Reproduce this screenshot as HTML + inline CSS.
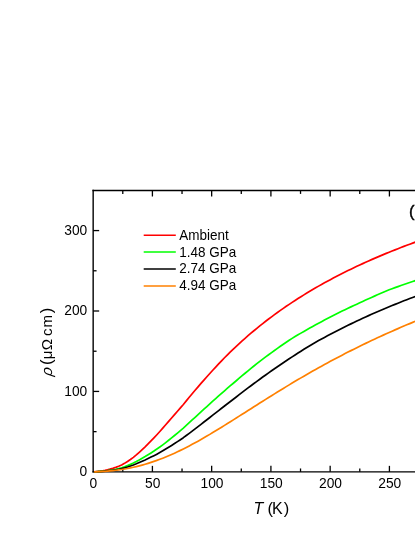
<!DOCTYPE html>
<html><head><meta charset="utf-8"><title>plot</title>
<style>
html,body{margin:0;padding:0;background:#fff;}
body{width:415px;height:537px;overflow:hidden;}
svg{display:block;will-change:transform;}
text{font-family:"Liberation Sans",sans-serif;fill:#000;}
</style></head><body>
<svg width="415" height="537" viewBox="0 0 415 537">
<rect x="0" y="0" width="415" height="537" fill="#ffffff"/>
<g stroke="#000" stroke-width="1.4" fill="none" stroke-linecap="butt">
<path d="M93.16 189.80 V472.56"/>
<path d="M92.46 190.50 H430"/>
<path d="M92.46 471.86 H430" stroke-width="1.3"/>
</g>
<g stroke="#000" stroke-width="1.3" fill="none">
<path d="M122.78 471.86 v-3.4"/><path d="M122.78 190.50 v3.4"/>
<path d="M152.41 471.86 v-6.0"/><path d="M152.41 190.50 v6.0"/>
<path d="M182.03 471.86 v-3.4"/><path d="M182.03 190.50 v3.4"/>
<path d="M211.66 471.86 v-6.0"/><path d="M211.66 190.50 v6.0"/>
<path d="M241.28 471.86 v-3.4"/><path d="M241.28 190.50 v3.4"/>
<path d="M270.91 471.86 v-6.0"/><path d="M270.91 190.50 v6.0"/>
<path d="M300.53 471.86 v-3.4"/><path d="M300.53 190.50 v3.4"/>
<path d="M330.16 471.86 v-6.0"/><path d="M330.16 190.50 v6.0"/>
<path d="M359.78 471.86 v-3.4"/><path d="M359.78 190.50 v3.4"/>
<path d="M389.41 471.86 v-6.0"/><path d="M389.41 190.50 v6.0"/>
<path d="M419.03 471.86 v-3.4"/><path d="M419.03 190.50 v3.4"/>
<path d="M93.16 431.64 h3.4"/>
<path d="M93.16 391.43 h6.0"/>
<path d="M93.16 351.22 h3.4"/>
<path d="M93.16 311.00 h6.0"/>
<path d="M93.16 270.78 h3.4"/>
<path d="M93.16 230.57 h6.0"/>
</g>
<g fill="none" stroke-width="1.7" stroke-linejoin="round" stroke-linecap="butt">
<path d="M94.13 471.79 L95.66 471.66 L98.03 471.42 L100.39 471.12 L102.76 470.75 L105.12 470.29 L107.49 469.74 L109.85 469.18 L112.79 468.37 L115.73 467.40 L118.67 466.26 L121.61 464.92 L124.55 463.35 L127.49 461.54 L130.43 459.54 L133.37 457.33 L136.31 454.93 L139.25 452.34 L142.19 449.65 L145.13 446.87 L148.07 443.93 L151.01 440.91 L153.95 437.86 L156.89 434.71 L159.83 431.47 L162.77 428.16 L165.71 424.80 L168.65 421.39 L171.59 417.99 L174.53 414.62 L177.47 411.24 L180.41 407.87 L183.35 404.49 L186.29 400.89 L189.23 397.32 L192.17 393.79 L195.11 390.29 L198.05 386.84 L200.99 383.43 L203.93 380.07 L206.87 376.76 L209.81 373.51 L212.75 370.28 L215.69 367.07 L218.63 363.92 L221.57 360.82 L224.51 357.77 L227.45 354.78 L230.39 351.87 L233.33 349.05 L236.27 346.29 L239.21 343.57 L242.15 340.91 L245.09 338.29 L248.03 335.73 L250.97 333.21 L253.91 330.74 L256.85 328.31 L259.79 325.93 L262.73 323.59 L265.67 321.29 L268.61 319.04 L271.55 316.82 L274.49 314.65 L277.43 312.51 L280.37 310.41 L283.31 308.35 L286.25 306.32 L289.19 304.33 L292.13 302.37 L295.07 300.45 L298.01 298.55 L300.95 296.69 L303.89 294.86 L306.83 293.06 L309.77 291.28 L312.71 289.54 L315.65 287.82 L318.59 286.13 L321.53 284.47 L324.47 282.83 L327.41 281.22 L330.35 279.63 L333.29 278.06 L336.23 276.52 L339.17 275.00 L342.11 273.50 L345.05 272.03 L347.99 270.58 L350.93 269.14 L353.87 267.73 L356.81 266.34 L359.75 264.96 L362.69 263.61 L365.63 262.27 L368.57 260.95 L371.51 259.65 L374.45 258.37 L377.39 257.10 L380.33 255.85 L383.27 254.62 L386.21 253.40 L389.15 252.20 L392.09 251.01 L395.03 249.84 L397.97 248.68 L400.91 247.54 L403.85 246.41 L406.79 245.30 L409.73 244.20 L412.67 243.11 L415.61 242.03 L418.55 240.97 L421.49 239.92 L424.43 238.88 L427.37 237.86 L430.31 236.84" stroke="#ff0000"/>
<path d="M94.13 471.82 L95.66 471.76 L98.03 471.63 L100.39 471.47 L102.76 471.27 L105.12 471.01 L107.49 470.71 L109.85 470.34 L112.79 469.83 L115.73 469.25 L118.67 468.56 L121.61 467.76 L124.55 466.79 L127.49 465.65 L130.43 464.39 L133.37 463.02 L136.31 461.52 L139.25 459.90 L142.19 458.27 L145.13 456.59 L148.07 454.81 L151.01 452.95 L153.95 451.06 L156.89 449.07 L159.83 446.99 L162.77 444.82 L165.71 442.57 L168.65 440.25 L171.59 437.89 L174.53 435.49 L177.47 433.04 L180.41 430.56 L183.35 428.04 L186.29 425.37 L189.23 422.69 L192.17 419.99 L195.11 417.29 L198.05 414.59 L200.99 411.90 L203.93 409.21 L206.87 406.53 L209.81 403.87 L212.75 401.22 L215.69 398.57 L218.63 395.94 L221.57 393.35 L224.51 390.78 L227.45 388.23 L230.39 385.72 L233.33 383.24 L236.27 380.75 L239.21 378.21 L242.15 375.71 L245.09 373.24 L248.03 370.80 L250.97 368.39 L253.91 366.02 L256.85 363.69 L259.79 361.38 L262.73 359.14 L265.67 356.92 L268.61 354.75 L271.55 352.60 L274.49 350.48 L277.43 348.39 L280.37 346.30 L283.31 344.24 L286.25 342.21 L289.19 340.21 L292.13 338.38 L295.07 336.59 L298.01 334.84 L300.95 333.11 L303.89 331.41 L306.83 329.73 L309.77 328.09 L312.71 326.46 L315.65 324.86 L318.59 323.28 L321.53 321.68 L324.47 320.10 L327.41 318.55 L330.35 317.02 L333.29 315.51 L336.23 314.02 L339.17 312.55 L342.11 311.10 L345.05 309.68 L347.99 308.27 L350.93 306.88 L353.87 305.51 L356.81 304.16 L359.75 302.82 L362.69 301.45 L365.63 300.09 L368.57 298.74 L371.51 297.42 L374.45 296.11 L377.39 294.81 L380.33 293.53 L383.27 292.27 L386.21 291.02 L389.15 289.80 L392.09 288.72 L395.03 287.65 L397.97 286.60 L400.91 285.56 L403.85 284.53 L406.79 283.52 L409.73 282.52 L412.67 281.53 L415.61 280.54 L418.55 279.50 L421.49 278.48 L424.43 277.46 L427.37 276.46 L430.31 275.47" stroke="#00ff00"/>
<path d="M94.13 471.82 L95.66 471.77 L98.03 471.67 L100.39 471.53 L102.76 471.36 L105.12 471.16 L107.49 470.91 L109.85 470.62 L112.79 470.22 L115.73 469.78 L118.67 469.25 L121.61 468.64 L124.55 467.89 L127.49 467.00 L130.43 466.02 L133.37 464.95 L136.31 463.79 L139.25 462.54 L142.19 461.26 L145.13 459.95 L148.07 458.54 L151.01 457.10 L153.95 455.66 L156.89 454.14 L159.83 452.54 L162.77 450.86 L165.71 449.10 L168.65 447.28 L171.59 445.44 L174.53 443.58 L177.47 441.66 L180.41 439.70 L183.35 437.68 L186.29 435.52 L189.23 433.33 L192.17 431.11 L195.11 428.87 L198.05 426.60 L200.99 424.33 L203.93 422.04 L206.87 419.75 L209.81 417.46 L212.75 415.16 L215.69 412.86 L218.63 410.56 L221.57 408.27 L224.51 406.00 L227.45 403.74 L230.39 401.49 L233.33 399.26 L236.27 397.00 L239.21 394.70 L242.15 392.42 L245.09 390.16 L248.03 387.92 L250.97 385.70 L253.91 383.51 L256.85 381.34 L259.79 379.19 L262.73 377.05 L265.67 374.94 L268.61 372.84 L271.55 370.77 L274.49 368.73 L277.43 366.71 L280.37 364.72 L283.31 362.75 L286.25 360.78 L289.19 358.81 L292.13 356.86 L295.07 354.94 L298.01 353.04 L300.95 351.17 L303.89 349.31 L306.83 347.48 L309.77 345.67 L312.71 343.91 L315.65 342.25 L318.59 340.61 L321.53 338.99 L324.47 337.39 L327.41 335.81 L330.35 334.25 L333.29 332.71 L336.23 331.19 L339.17 329.69 L342.11 328.21 L345.05 326.74 L347.99 325.29 L350.93 323.87 L353.87 322.45 L356.81 321.06 L359.75 319.68 L362.69 318.32 L365.63 316.97 L368.57 315.65 L371.51 314.33 L374.45 313.03 L377.39 311.75 L380.33 310.48 L383.27 309.23 L386.21 307.99 L389.15 306.76 L392.09 305.55 L395.03 304.35 L397.97 303.17 L400.91 301.99 L403.85 300.83 L406.79 299.69 L409.73 298.55 L412.67 297.43 L415.61 296.32 L418.55 295.22 L421.49 294.14 L424.43 293.06 L427.37 292.00 L430.31 290.95" stroke="#000000"/>
<path d="M94.13 471.83 L95.66 471.79 L98.03 471.71 L100.39 471.60 L102.76 471.46 L105.12 471.30 L107.49 471.10 L109.85 470.87 L112.79 470.58 L115.73 470.26 L118.67 469.89 L121.61 469.47 L124.55 469.00 L127.49 468.47 L130.43 467.90 L133.37 467.27 L136.31 466.59 L139.25 465.86 L142.19 465.08 L145.13 464.24 L148.07 463.35 L151.01 462.42 L153.95 461.43 L156.89 460.39 L159.83 459.31 L162.77 458.17 L165.71 456.99 L168.65 455.75 L171.59 454.48 L174.53 453.16 L177.47 451.79 L180.41 450.38 L183.35 448.93 L186.29 447.45 L189.23 445.92 L192.17 444.36 L195.11 442.76 L198.05 441.14 L200.99 439.48 L203.93 437.80 L206.87 436.09 L209.81 434.36 L212.75 432.60 L215.69 430.83 L218.63 429.03 L221.57 427.22 L224.51 425.40 L227.45 423.57 L230.39 421.72 L233.33 419.87 L236.27 418.01 L239.21 416.15 L242.15 414.28 L245.09 412.41 L248.03 410.54 L250.97 408.67 L253.91 406.80 L256.85 404.93 L259.79 403.07 L262.73 401.21 L265.67 399.36 L268.61 397.52 L271.55 395.68 L274.49 393.85 L277.43 392.03 L280.37 390.22 L283.31 388.43 L286.25 386.64 L289.19 384.86 L292.13 383.10 L295.07 381.34 L298.01 379.60 L300.95 377.88 L303.89 376.16 L306.83 374.46 L309.77 372.77 L312.71 371.10 L315.65 369.44 L318.59 367.79 L321.53 366.16 L324.47 364.54 L327.41 362.94 L330.35 361.35 L333.29 359.77 L336.23 358.21 L339.17 356.66 L342.11 355.13 L345.05 353.61 L347.99 352.11 L350.93 350.62 L353.87 349.14 L356.81 347.68 L359.75 346.23 L362.69 344.79 L365.63 343.37 L368.57 341.96 L371.51 340.57 L374.45 339.19 L377.39 337.82 L380.33 336.46 L383.27 335.12 L386.21 333.79 L389.15 332.47 L392.09 331.17 L395.03 329.88 L397.97 328.60 L400.91 327.33 L403.85 326.07 L406.79 324.83 L409.73 323.60 L412.67 322.38 L415.61 321.17 L418.55 319.97 L421.49 318.78 L424.43 317.60 L427.37 316.44 L430.31 315.29" stroke="#ff8000"/>
</g>
<g font-size="13.8px">
<text transform="translate(93.46 488.15) scale(1 1.02)" text-anchor="middle">0</text>
<text transform="translate(152.71 488.15) scale(1 1.02)" text-anchor="middle">50</text>
<text transform="translate(211.96 488.15) scale(1 1.02)" text-anchor="middle">100</text>
<text transform="translate(271.21 488.15) scale(1 1.02)" text-anchor="middle">150</text>
<text transform="translate(330.46 488.15) scale(1 1.02)" text-anchor="middle">200</text>
<text transform="translate(389.71 488.15) scale(1 1.02)" text-anchor="middle">250</text>
<text transform="translate(87.25 476.06) scale(1 1.02)" text-anchor="end">0</text>
<text transform="translate(87.25 395.63) scale(1 1.02)" text-anchor="end">100</text>
<text transform="translate(87.25 315.20) scale(1 1.02)" text-anchor="end">200</text>
<text transform="translate(87.25 234.77) scale(1 1.02)" text-anchor="end">300</text>
</g>
<g font-size="13.5px">
<text transform="translate(179.3 239.75) scale(1 1.045)">Ambient</text>
<text transform="translate(179.3 256.55) scale(1 1.045)">1.48 GPa</text>
<text transform="translate(179.3 273.45) scale(1 1.045)">2.74 GPa</text>
<text transform="translate(179.3 290.45) scale(1 1.045)">4.94 GPa</text>
</g>
<g fill="none" stroke-width="1.55">
<path d="M143.7 235.20 H175.8" stroke="#ff0000"/>
<path d="M143.7 252.00 H175.8" stroke="#00ff00"/>
<path d="M143.7 268.90 H175.8" stroke="#000000"/>
<path d="M143.7 285.90 H175.8" stroke="#ff8000"/>
</g>
<text x="253.46" y="514.4" font-size="16px"><tspan font-style="italic">T</tspan><tspan x="267.5" font-size="16.5px">(</tspan><tspan x="271.9">K</tspan><tspan x="283.8" font-size="16.5px">)</tspan></text>
<g transform="translate(52.0 0) rotate(-90)" font-size="15.1px">
<text transform="translate(-376.4 0) skewX(-9)" x="0" y="0" font-style="italic">&#961;</text>
<text y="0" x="-364.9" font-size="16.5px">(</text>
<text y="0" x="-359.24 -350.36">&#956;&#937;</text>
<text y="0" x="-336.0 -327.39">cm</text>
<text y="0" x="-313.22" font-size="16.5px">)</text>
</g>
<text x="409.1" y="216.8" font-size="16.6px" stroke="#000" stroke-width="0.4">(a)</text>
</svg></body></html>
